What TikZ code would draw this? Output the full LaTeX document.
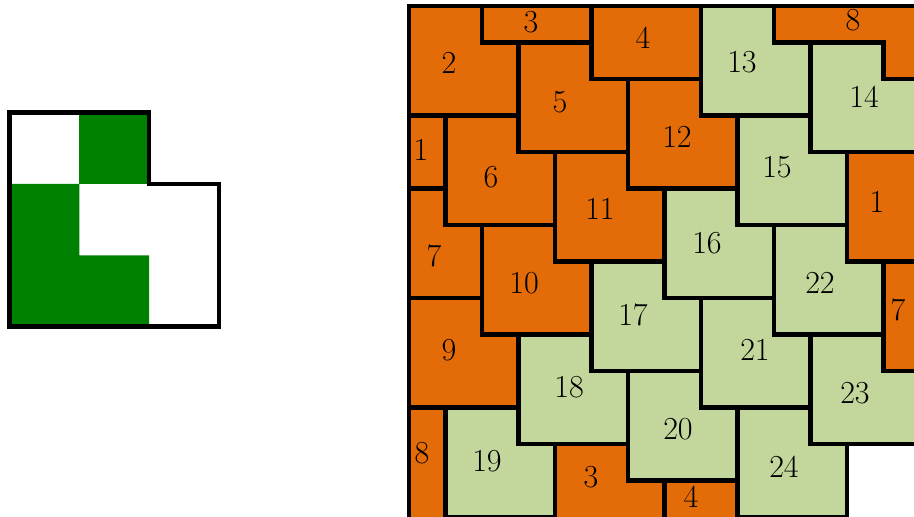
\documentclass[tikz,border=0pt]{standalone}
\usepackage{xcolor}

\definecolor{tileorange}{HTML}{E36C09}
\definecolor{tilegreen}{HTML}{C3D69B}
\definecolor{cellgreen}{HTML}{008000}

\begin{document}
\begin{tikzpicture}[line join=miter,
  tile/.style={draw=black, line width=3.2pt},
  num/.style={font=\fontsize{25}{30}\selectfont}]

\useasboundingbox (-11.205,0.164) rectangle (13.836,-13.973);

% single tile
\begin{scope}[shift={(-10.945,-2.918)}, xscale=1.912, yscale=1.956]
  \fill[cellgreen] (1,0) rectangle (2,-1);
  \fill[cellgreen] (0,-1) -- (1,-1) -- (1,-2) -- (2,-2) -- (2,-3) -- (0,-3) -- cycle;
  \draw[line width=3.6pt] (0,0) -- (2,0) -- (2,-1) -- (3,-1) -- (3,-3) -- (0,-3) -- cycle;
\end{scope}

% tiling
\begin{scope}
  \clip (0,0) rectangle (14.5,-14.5);
  \foreach \a/\b in {0/0, 2/-2, 4/12, 5/-1, 7/13, 3/1, -2/2, 12/4, 6/2, 1/3, 4/4, -1/5, 13/7, 2/6, 0/8}
    \filldraw[tile, fill=tileorange] (\a,-\b) -- ++(2,0) -- ++(0,-1) -- ++(1,0) -- ++(0,-2) -- ++(-3,0) -- cycle;
  \foreach \a/\b in {8/0, 11/1, 9/3, 7/5, 10/6, 5/7, 8/8, 3/9, 11/9, 6/10, 1/11, 9/11}
    \filldraw[tile, fill=tilegreen] (\a,-\b) -- ++(2,0) -- ++(0,-1) -- ++(1,0) -- ++(0,-2) -- ++(-3,0) -- cycle;
  % the two pieces of 8
  \filldraw[tile, fill=tileorange] (10,0.5) -- (10,-1) -- (13,-1) -- (13,-2) -- (14.5,-2) -- (14.5,0.5) -- cycle;
  \filldraw[tile, fill=tileorange] (-1,-11) -- (1,-11) -- (1,-14.5) -- (-1,-14.5) -- cycle;
\end{scope}
\draw[line width=3.2pt] (0,-14.5) -- (0,0) -- (14.5,0);

% numbers
\foreach \t/\x/\y [count=\i] in {2/1.096/1.562, 3/3.342/0.438, 4/6.411/0.877, 8/12.164/0.384,
    13/9.123/1.534, 14/12.466/2.493, 5/4.137/2.630, 12/7.342/3.589, 1/0.329/3.945,
    6/2.247/4.685, 15/10.082/4.411, 1/12.822/5.370, 11/5.233/5.562, 16/8.164/6.493,
    7/0.685/6.849, 22/11.260/7.589, 10/3.151/7.589, 7/13.397/8.329, 17/6.137/8.466,
    21/9.479/9.425, 9/1.096/9.425, 23/12.219/10.603, 18/4.384/10.438, 20/7.370/11.589,
    8/0.356/12.247, 19/2.137/12.466, 24/10.274/12.630, 3/4.986/12.904, 4/7.726/13.452}
  \node[num] (lab\i) at (\x,-\y) {\t};

\end{tikzpicture}
\end{document}
